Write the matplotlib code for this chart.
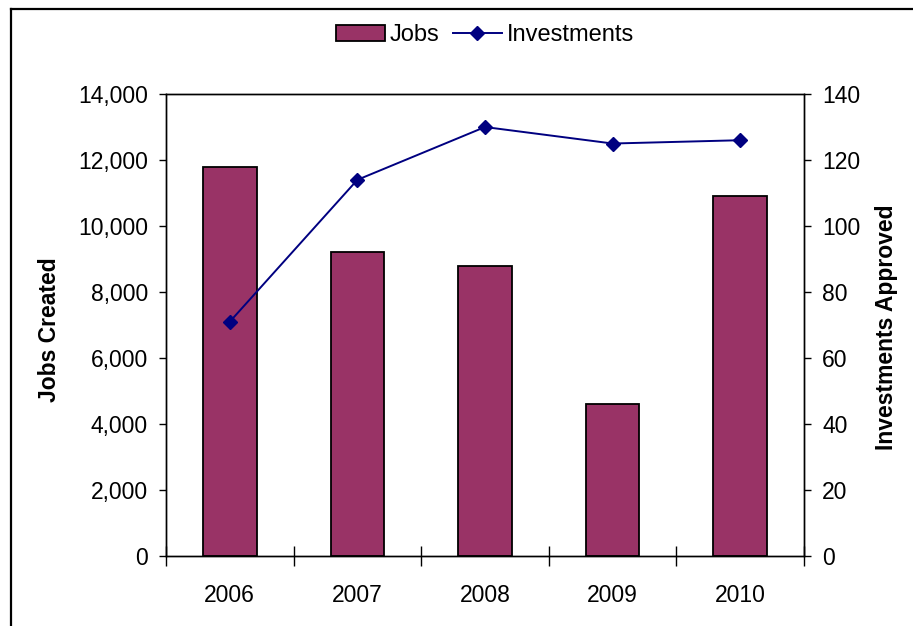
import matplotlib
matplotlib.use('Agg')
import matplotlib.pyplot as plt
from matplotlib.lines import Line2D
from matplotlib.ticker import FuncFormatter, MultipleLocator
import numpy as np

years = ['2006', '2007', '2008', '2009', '2010']
jobs = [11800, 9200, 8800, 4600, 10900]
investments = [71, 114, 130, 125, 126]

plt.rcParams['font.family'] = ['Liberation Sans', 'DejaVu Sans']
plt.rcParams['font.size'] = 16.5

fig = plt.figure(figsize=(9.13, 6.26), dpi=100)
ax = fig.add_axes([0.1818, 0.1118, 0.6988, 0.738])
ax2 = ax.twinx()

x = np.arange(len(years))
bars = ax.bar(x, jobs, width=0.42, color='#993366', edgecolor='black', linewidth=1.3,
              label='Jobs', zorder=2)
line, = ax2.plot(x, investments, color='#000080', linewidth=1.4, marker='D',
                 markersize=7, label='Investments', zorder=3)

ax.set_xlim(-0.5, len(years) - 0.5)
ax.set_ylim(0, 14000)
ax2.set_ylim(0, 140)
ax.yaxis.set_major_locator(MultipleLocator(2000))
ax2.yaxis.set_major_locator(MultipleLocator(20))
ax.yaxis.set_major_formatter(FuncFormatter(lambda v, p: '{:,.0f}'.format(v)))

# category separators crossing the axis, labels centred between them
ax.set_xticks(np.arange(len(years) + 1) - 0.5)
ax.set_xticklabels([])
ax.set_xticks(x, minor=True)
ax.set_xticklabels(years, minor=True)
ax.tick_params(axis='x', which='major', direction='inout', length=14, width=1)
ax.tick_params(axis='x', which='minor', length=0, pad=20)
ax.tick_params(axis='y', direction='out', length=5, width=1, pad=8)
ax2.tick_params(axis='y', direction='out', length=5, width=1, pad=8)

for a in (ax, ax2):
    for s in a.spines.values():
        s.set_color('black')
        s.set_linewidth(1)

ax.set_ylabel('Jobs Created', fontweight='bold')
ax2.set_ylabel('Investments Approved', fontweight='bold')
ax.yaxis.set_label_coords(-0.165, 0.49)
ax2.yaxis.set_label_coords(1.112, 0.495)

fig.legend(handles=[bars, line], loc='center', bbox_to_anchor=(0.531, 0.944),
           ncol=2, frameon=False, fontsize=17, handlelength=2.1, handletextpad=0.2,
           columnspacing=0.55)

# outer chart frame (left and top edges)
fig.add_artist(Line2D([11 / 913, 11 / 913], [0, 1 - 9 / 626], transform=fig.transFigure,
                      color='black', linewidth=1.6))
fig.add_artist(Line2D([11 / 913, 1], [1 - 9 / 626, 1 - 9 / 626], transform=fig.transFigure,
                      color='black', linewidth=1.6))

fig.savefig('out.png', dpi=100)
